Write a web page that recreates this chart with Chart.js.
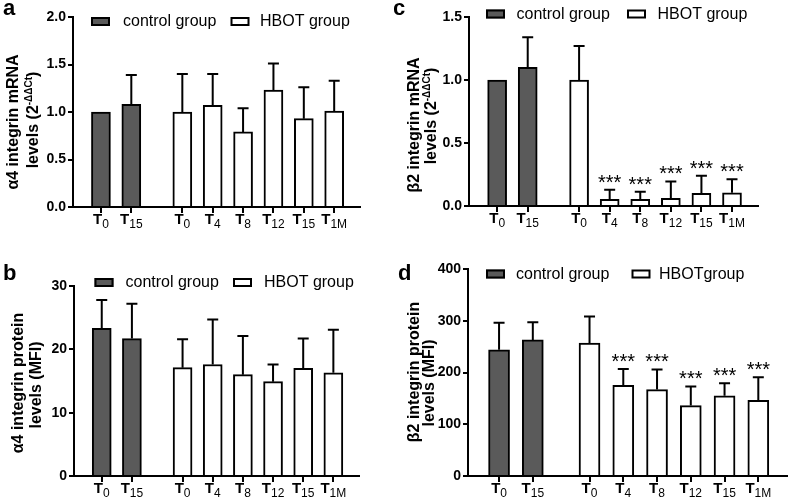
<!DOCTYPE html>
<html>
<head>
<meta charset="utf-8">
<script src="https://cdn.jsdelivr.net/npm/chart.js@4.4.0/dist/chart.umd.min.js"></script>
<style>
  body { margin: 0; background: #fff; width: 789px; height: 503px; overflow: hidden; position: relative; }
  canvas { position: absolute; }
</style>
</head>
<body>
<canvas id="pa" width="394" height="250" style="left:0;top:0"></canvas>
<canvas id="pc" width="395" height="250" style="left:394px;top:0"></canvas>
<canvas id="pb" width="394" height="253" style="left:0;top:250px"></canvas>
<canvas id="pd" width="395" height="253" style="left:394px;top:250px"></canvas>
<script>
const FONT = "'Liberation Sans', Arial, sans-serif";
Chart.defaults.font.family = FONT;

// categories
const controlLabels = ['T0', 'T15'];
const hbotLabels = ['T0', 'T4', 'T8', 'T12', 'T15', 'T1M'];

// a: alpha4 integrin mRNA
const a4MrnaControl = [1.00, 1.08];
const a4MrnaControlSD = [0, 0.31];
const a4MrnaHbot = [1.00, 1.07, 0.79, 1.23, 0.93, 1.01];
const a4MrnaHbotSD = [0.40, 0.33, 0.25, 0.28, 0.33, 0.32];

// b: alpha4 integrin protein (MFI)
const a4ProtControl = [23.3, 21.7];
const a4ProtControlSD = [4.5, 5.5];
const a4ProtHbot = [17.1, 17.6, 16.0, 14.9, 17.0, 16.3];
const a4ProtHbotSD = [4.5, 7.1, 6.1, 2.7, 4.7, 6.8];

// c: beta2 integrin mRNA
const b2MrnaControl = [1.00, 1.10];
const b2MrnaControlSD = [0, 0.24];
const b2MrnaHbot = [1.00, 0.053, 0.053, 0.061, 0.100, 0.105];
const b2MrnaHbotSD = [0.27, 0.076, 0.060, 0.134, 0.140, 0.108];
const b2MrnaStars = ['', '***', '***', '***', '***', '***'];

// d: beta2 integrin protein (MFI)
const b2ProtControl = [244, 263];
const b2ProtControlSD = [52, 34];
const b2ProtHbot = [257, 175, 167, 136, 155, 146];
const b2ProtHbotSD = [51, 32, 39, 37, 24, 45];
const b2ProtStars = ['', '***', '***', '***', '***', '***'];

const GAP = 1.68;
function ctrlX(i) { return i; }
function hbotX(i) { return controlLabels.length - 1 + GAP + i; }

function drawParts(ctx, parts, cx, cy) {
  // parts drawn in rotated frame, centered on (0,0)
  let total = 0;
  parts.forEach(p => { ctx.font = p.font; p.w = ctx.measureText(p.t).width; total += p.w; });
  ctx.save();
  ctx.translate(cx, cy);
  ctx.rotate(-Math.PI / 2);
  let x = -total / 2;
  ctx.textAlign = 'left';
  ctx.textBaseline = 'middle';
  parts.forEach(p => {
    ctx.font = p.font;
    ctx.fillText(p.t, x, p.dy || 0);
    x += p.w;
  });
  ctx.restore();
}

function overlay(p) {
  return {
    id: 'overlay',
    afterDatasetsDraw(chart) {
      const ctx = chart.ctx, xs = chart.scales.x, ys = chart.scales.y;
      ctx.save();
      ctx.strokeStyle = '#000';
      ctx.fillStyle = '#000';
      ctx.lineWidth = 2;
      chart.data.datasets.forEach(ds => {
        ds.data.forEach((pt, i) => {
          const x = xs.getPixelForValue(pt.x);
          const y0 = ys.getPixelForValue(pt.y);
          const y1 = ys.getPixelForValue(pt.y + ds.sd[i]);
          if (ds.sd[i]) {
            ctx.beginPath();
            ctx.moveTo(x, y0); ctx.lineTo(x, y1);
            ctx.moveTo(x - 5.5, y1); ctx.lineTo(x + 5.5, y1);
            ctx.stroke();
          }
          if (ds.stars && ds.stars[i]) {
            ctx.font = '20px ' + FONT;
            ctx.textAlign = 'center';
            ctx.textBaseline = 'alphabetic';
            ctx.fillText(ds.stars[i], x, y1 - 1);
          }
        });
      });
      ctx.restore();
    },
    afterDraw(chart) {
      const ctx = chart.ctx, xs = chart.scales.x;
      const bottom = chart.chartArea.bottom;
      ctx.save();
      ctx.fillStyle = '#000';
      // x tick labels with subscripts
      const items = controlLabels.map((l, i) => [l, ctrlX(i)])
        .concat(hbotLabels.map((l, i) => [l, hbotX(i)]));
      items.forEach(([lab, v]) => {
        const x = xs.getPixelForValue(v);
        const main = lab[0], sub = lab.slice(1);
        ctx.font = 'bold 15px ' + FONT;
        const w1 = ctx.measureText(main).width;
        ctx.font = '12px ' + FONT;
        const w2 = ctx.measureText(sub).width;
        const x0 = x - (w1 + w2) / 2;
        ctx.textAlign = 'left';
        ctx.textBaseline = 'alphabetic';
        ctx.font = 'bold 15px ' + FONT;
        ctx.fillText(main, x0, bottom + 17);
        ctx.font = '12px ' + FONT;
        ctx.fillText(sub, x0 + w1, bottom + 21);
      });
      // panel letter
      ctx.font = 'bold 22px ' + FONT;
      ctx.fillText(p.letter, p.letterPos[0] - p.left, p.letterPos[1] - p.top);
      // y title
      p.title.forEach(line => drawParts(ctx, line.parts, line.x - p.left, line.y - p.top));
      // legend
      const lg = p.legend;
      const base = lg.base - p.top;
      [[lg.c, '#5a5a5a', 'control group'], [lg.h, '#ffffff', p.hbotName]].forEach(([pos, fill, txt]) => {
        const bx = pos[0] - p.left;
        ctx.fillStyle = fill;
        ctx.fillRect(bx, base - 9, 19, 9);
        ctx.strokeStyle = '#000';
        ctx.lineWidth = 2;
        ctx.strokeRect(bx + 1, base - 8, 17, 7);
        ctx.fillStyle = '#000';
        ctx.font = '16px ' + FONT;
        ctx.textAlign = 'left';
        ctx.textBaseline = 'alphabetic';
        ctx.fillText(txt, pos[1] - p.left, base);
      });
      ctx.restore();
    }
  };
}

function makePanel(p) {
  const allX = controlLabels.map((l, i) => ctrlX(i)).concat(hbotLabels.map((l, i) => hbotX(i)));
  const axisGrid = { display: true, drawOnChartArea: false, drawTicks: true, offset: false, color: '#000', lineWidth: 2 };
  new Chart(document.getElementById(p.id), {
    type: 'bar',
    data: {
      datasets: [
        {
          label: 'control group',
          data: p.ctrl.map((v, i) => ({ x: ctrlX(i), y: v })),
          sd: p.ctrlSD,
          backgroundColor: '#5a5a5a',
          borderColor: '#000',
          borderWidth: 2,
          barThickness: p.barW,
          grouped: false
        },
        {
          label: p.hbotName,
          data: p.hbot.map((v, i) => ({ x: hbotX(i), y: v })),
          sd: p.hbotSD,
          stars: p.stars,
          backgroundColor: '#ffffff',
          borderColor: '#000',
          borderWidth: 2,
          barThickness: p.barW,
          grouped: false
        }
      ]
    },
    options: {
      responsive: false,
      animation: false,
      layout: { padding: { left: 0, top: p.padTop, right: p.padRight, bottom: 0 } },
      plugins: { legend: { display: false }, tooltip: { enabled: false } },
      scales: {
        x: {
          type: 'linear',
          min: -0.92,
          max: 8.53,
          offset: false,
          z: 1,
          afterBuildTicks: s => { s.ticks = allX.map(v => ({ value: v })); },
          afterFit: s => { s.height = p.xH; },
          ticks: { display: false },
          grid: Object.assign({ tickLength: 6 }, axisGrid),
          border: { display: true, color: '#000', width: 2 }
        },
        y: {
          min: 0,
          max: p.yMax,
          afterFit: s => { s.width = p.yW; },
          ticks: {
            stepSize: p.yStep,
            padding: 2,
            color: '#000',
            font: { family: FONT, size: 14, weight: 'bold' },
            callback: v => v.toFixed(p.dec)
          },
          grid: Object.assign({ tickLength: 5 }, axisGrid),
          border: { display: true, color: '#000', width: 2 }
        }
      }
    },
    plugins: [overlay(p)]
  });
}

const TB = 'bold 16px ' + FONT;
const TS = 'bold 10px ' + FONT;

makePanel({
  id: 'pa', letter: 'a', letterPos: [3, 15], left: 0, top: 0,
  yW: 73, padTop: 17, padRight: 34, xH: 43, barW: 19,
  yMax: 2, yStep: 0.5, dec: 1,
  ctrl: a4MrnaControl, ctrlSD: a4MrnaControlSD, hbot: a4MrnaHbot, hbotSD: a4MrnaHbotSD, stars: null,
  hbotName: 'HBOT group',
  legend: { base: 26, c: [91, 123], h: [230.5, 260] },
  title: [
    { x: 14, y: 122, parts: [{ t: 'α4 integrin mRNA', font: TB }] },
    { x: 34, y: 120, parts: [{ t: 'levels (2', font: TB }, { t: '-ΔΔCt', font: TS, dy: -5 }, { t: ')', font: TB }] }
  ]
});

makePanel({
  id: 'pc', letter: 'c', letterPos: [393, 15], left: 394, top: 0,
  yW: 75, padTop: 17, padRight: 31, xH: 44, barW: 19,
  yMax: 1.5, yStep: 0.5, dec: 1,
  ctrl: b2MrnaControl, ctrlSD: b2MrnaControlSD, hbot: b2MrnaHbot, hbotSD: b2MrnaHbotSD, stars: b2MrnaStars,
  hbotName: 'HBOT group',
  legend: { base: 18.5, c: [486, 516.5], h: [627, 657.5] },
  title: [
    { x: 415, y: 125, parts: [{ t: 'β2 integrin mRNA', font: TB }] },
    { x: 432, y: 116, parts: [{ t: 'levels (2', font: TB }, { t: '-ΔΔCt', font: TS, dy: -5 }, { t: ')', font: TB }] }
  ]
});

makePanel({
  id: 'pb', letter: 'b', letterPos: [3, 280], left: 0, top: 250,
  yW: 74, padTop: 36, padRight: 35, xH: 27, barW: 19,
  yMax: 30, yStep: 10, dec: 0,
  ctrl: a4ProtControl, ctrlSD: a4ProtControlSD, hbot: a4ProtHbot, hbotSD: a4ProtHbotSD, stars: null,
  hbotName: 'HBOT group',
  legend: { base: 287, c: [94.5, 125.5], h: [233, 264] },
  title: [
    { x: 19, y: 383, parts: [{ t: 'α4 integrin protein', font: TB }] },
    { x: 37, y: 385, parts: [{ t: 'levels (MFI)', font: TB }] }
  ]
});

makePanel({
  id: 'pd', letter: 'd', letterPos: [398, 280], left: 394, top: 250,
  yW: 74, padTop: 19, padRight: 2, xH: 27, barW: 21,
  yMax: 400, yStep: 100, dec: 0,
  ctrl: b2ProtControl, ctrlSD: b2ProtControlSD, hbot: b2ProtHbot, hbotSD: b2ProtHbotSD, stars: b2ProtStars,
  hbotName: 'HBOTgroup',
  legend: { base: 278.5, c: [486, 516], h: [631.5, 659] },
  title: [
    { x: 415, y: 372, parts: [{ t: 'β2 integrin protein', font: TB }] },
    { x: 430, y: 383, parts: [{ t: 'levels (MFI)', font: TB }] }
  ]
});
</script>
</body>
</html>
